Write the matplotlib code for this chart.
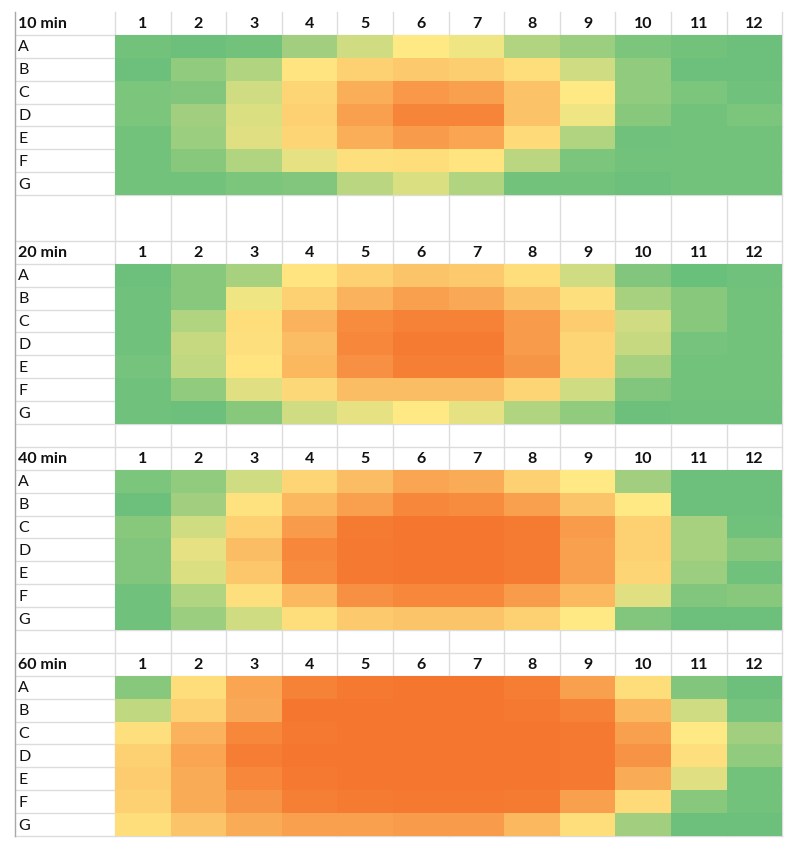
import numpy as np
import matplotlib.pyplot as plt
from matplotlib.colors import LinearSegmentedColormap

# ---- data: 0 = green, 0.5 = yellow, 1 = orange (Excel 3-colour scale)
rows = ['A', 'B', 'C', 'D', 'E', 'F', 'G']
cols = [str(i) for i in range(1, 13)]
titles = ['10 min', '20 min', '40 min', '60 min']

t10 = [
    [0.05, 0.03, 0.05, 0.20, 0.35, 0.50, 0.45, 0.25, 0.18, 0.08, 0.05, 0.03],
    [0.03, 0.15, 0.25, 0.52, 0.60, 0.63, 0.61, 0.55, 0.35, 0.15, 0.03, 0.03],
    [0.08, 0.10, 0.35, 0.58, 0.74, 0.83, 0.80, 0.66, 0.50, 0.15, 0.08, 0.04],
    [0.08, 0.20, 0.38, 0.60, 0.80, 0.91, 0.91, 0.66, 0.45, 0.12, 0.05, 0.08],
    [0.05, 0.18, 0.40, 0.58, 0.74, 0.82, 0.78, 0.56, 0.25, 0.04, 0.05, 0.05],
    [0.05, 0.12, 0.25, 0.42, 0.54, 0.55, 0.52, 0.28, 0.08, 0.05, 0.05, 0.05],
    [0.05, 0.05, 0.08, 0.10, 0.28, 0.38, 0.25, 0.05, 0.05, 0.03, 0.05, 0.05],
]
t20 = [
    [0.03, 0.12, 0.22, 0.52, 0.60, 0.65, 0.63, 0.55, 0.35, 0.10, 0.02, 0.04],
    [0.04, 0.12, 0.45, 0.60, 0.72, 0.80, 0.76, 0.66, 0.54, 0.22, 0.12, 0.05],
    [0.04, 0.25, 0.55, 0.72, 0.88, 0.92, 0.92, 0.82, 0.62, 0.35, 0.12, 0.05],
    [0.04, 0.32, 0.54, 0.68, 0.90, 0.95, 0.95, 0.82, 0.58, 0.32, 0.06, 0.05],
    [0.06, 0.30, 0.52, 0.70, 0.86, 0.93, 0.93, 0.84, 0.58, 0.22, 0.05, 0.05],
    [0.04, 0.15, 0.40, 0.57, 0.68, 0.68, 0.68, 0.58, 0.35, 0.10, 0.05, 0.05],
    [0.04, 0.03, 0.12, 0.35, 0.42, 0.50, 0.42, 0.25, 0.15, 0.03, 0.04, 0.04],
]
t40 = [
    [0.08, 0.15, 0.35, 0.58, 0.68, 0.78, 0.75, 0.60, 0.50, 0.20, 0.03, 0.03],
    [0.03, 0.20, 0.53, 0.70, 0.80, 0.90, 0.88, 0.80, 0.65, 0.50, 0.03, 0.03],
    [0.12, 0.35, 0.60, 0.82, 0.95, 0.97, 0.97, 0.95, 0.82, 0.60, 0.22, 0.04],
    [0.10, 0.42, 0.68, 0.90, 0.96, 0.97, 0.97, 0.95, 0.80, 0.60, 0.22, 0.12],
    [0.10, 0.38, 0.64, 0.88, 0.96, 0.97, 0.97, 0.95, 0.80, 0.58, 0.18, 0.04],
    [0.04, 0.25, 0.54, 0.70, 0.86, 0.90, 0.90, 0.82, 0.70, 0.40, 0.10, 0.12],
    [0.04, 0.18, 0.35, 0.55, 0.63, 0.65, 0.65, 0.60, 0.50, 0.10, 0.03, 0.03],
]
t60 = [
    [0.12, 0.55, 0.78, 0.92, 0.96, 0.97, 0.97, 0.94, 0.80, 0.55, 0.10, 0.03],
    [0.30, 0.60, 0.76, 0.97, 0.97, 0.97, 0.97, 0.96, 0.92, 0.70, 0.35, 0.06],
    [0.54, 0.72, 0.90, 0.96, 0.97, 0.97, 0.97, 0.97, 0.96, 0.80, 0.50, 0.20],
    [0.60, 0.78, 0.94, 0.97, 0.97, 0.97, 0.97, 0.97, 0.96, 0.85, 0.54, 0.15],
    [0.62, 0.75, 0.90, 0.96, 0.97, 0.97, 0.97, 0.97, 0.96, 0.75, 0.40, 0.05],
    [0.60, 0.75, 0.85, 0.93, 0.95, 0.96, 0.96, 0.95, 0.80, 0.56, 0.12, 0.05],
    [0.55, 0.65, 0.75, 0.80, 0.80, 0.82, 0.82, 0.70, 0.55, 0.20, 0.03, 0.03],
]
blocks = [t10, t20, t40, t60]
gaps = [2, 1, 1]          # blank spreadsheet rows after each block

cmap = LinearSegmentedColormap.from_list('xl', ['#63BE7B', '#FFE984', '#F46F29'])

# sheet geometry (pixels)
W, H = 800, 854
x0, xlab, cw = 15, 115, 55.6
y0, rh = 13, 22.89
xe = xlab + cw * np.arange(13)
grid_c = '#dcdcdc'
font = ['Lato', 'DejaVu Sans']
fs = 11.5

fig = plt.figure(figsize=(W / 100, H / 100), dpi=100)
ax = fig.add_axes([0, 0, 1, 1])
ax.set_xlim(0, W); ax.set_ylim(H, 0); ax.axis('off')

r = 0
hlines = []
for b, data in enumerate(blocks):
    ytop = y0 + r * rh
    hlines.append(ytop)
    ax.text(x0 + 3, ytop + rh / 2, titles[b], ha='left', va='center', fontsize=fs,
            fontweight='bold', family=font, color='#111111')
    for j, c in enumerate(cols):
        ax.text((xe[j] + xe[j + 1]) / 2, ytop + rh / 2, c, ha='center', va='center',
                fontsize=fs, fontweight='bold', family=font, color='#111111')
    ye = ytop + rh * (1 + np.arange(8))
    hlines.extend(ye)
    ax.pcolormesh(xe, ye, np.array(data), cmap=cmap, vmin=0, vmax=1,
                  shading='flat', antialiased=False, zorder=3)
    for i, lab in enumerate(rows):
        ax.text(x0 + 3, ye[i] + rh / 2, lab, ha='left', va='center', fontsize=fs,
                family=font, color='#111111', zorder=4)
    r += 8
    if b < len(gaps):
        r += gaps[b]
ybot = y0 + r * rh

# spreadsheet gridlines
for y in hlines[1:]:
    ax.plot([x0, xe[-1]], [y, y], color=grid_c, lw=1, zorder=1)
for x in np.r_[xlab, xe[1:]]:
    ax.plot([x, x], [y0, ybot], color=grid_c, lw=1, zorder=1)
ax.plot([x0, x0], [y0, ybot], color='#a8a8a8', lw=1, zorder=2)

fig.savefig('out.png', dpi=100)
